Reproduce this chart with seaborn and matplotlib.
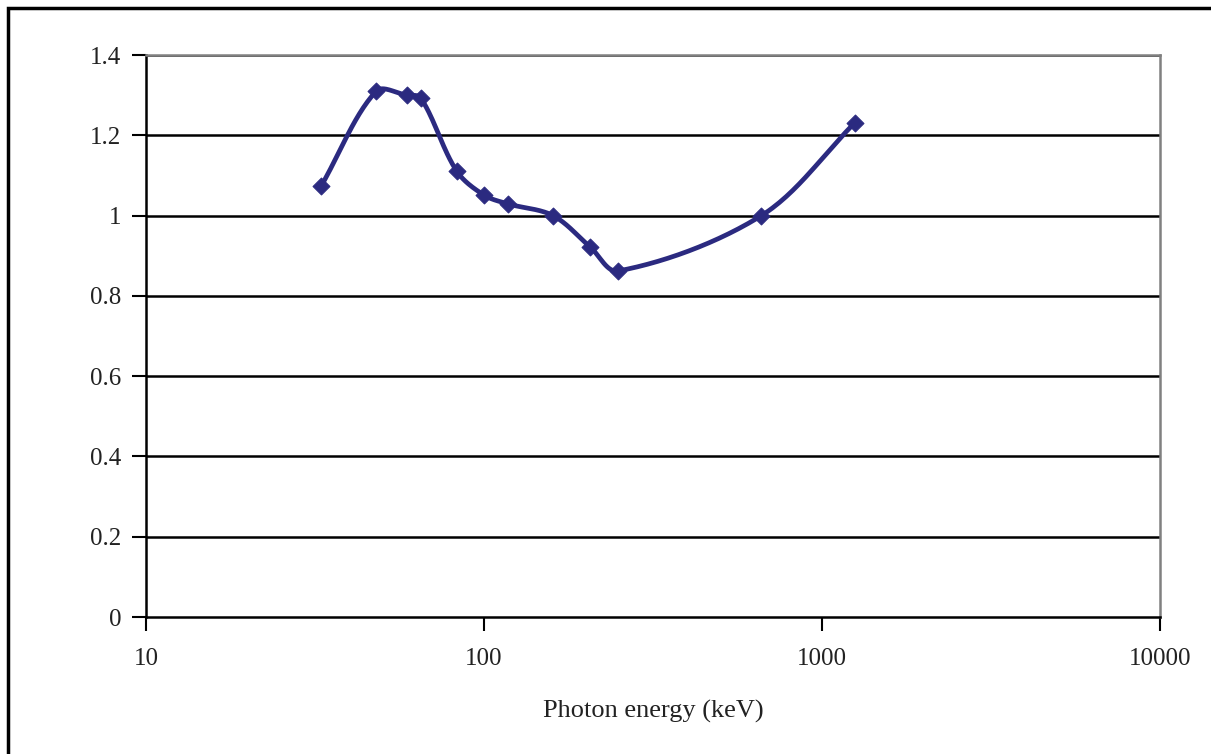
import numpy as np
import pandas as pd
import matplotlib
matplotlib.use('Agg')
import matplotlib.pyplot as plt
import seaborn as sns
from matplotlib.patches import Rectangle

# photon energy (keV) and relative response
energy = [33, 48, 59, 65, 83, 100, 118, 160, 206, 249, 662, 1250]
response = [1.074, 1.31, 1.30, 1.293, 1.111, 1.051, 1.029, 1.0, 0.922, 0.862, 1.0, 1.231]
yticks = [0, 0.2, 0.4, 0.6, 0.8, 1, 1.2, 1.4]
xticks = [10, 100, 1000, 10000]

df = pd.DataFrame({'energy': energy, 'response': response})

sns.set_style('white')
plt.rcParams['font.family'] = ['Liberation Serif', 'DejaVu Serif']

navy = '#2b2a80'

fig = plt.figure(figsize=(12.11, 7.54), dpi=100)
ax = fig.add_axes([146 / 1211, 1 - 617 / 754, (1160 - 146) / 1211, (617 - 55) / 754])

ax.set_xscale('log')
ax.set_xlim(10, 10000)
ax.set_ylim(0, 1.4)
ax.set_yticks(yticks)
ax.set_yticklabels([f'{t:g}' for t in yticks])
ax.set_xticks(xticks)
ax.set_xticklabels([str(t) for t in xticks])
ax.minorticks_off()

for t in yticks[1:]:
    ax.axhline(t, color='black', lw=1.8, zorder=1)

# smoothed line (bezier through the points, handles scaled by chord length)
pts = ax.transData.transform(np.column_stack([df['energy'], df['response']]))
P = np.vstack([pts[0], pts, pts[-1]])
curve = []
tt = np.linspace(0, 1, 30)
for i in range(1, len(P) - 2):
    p0, p1, p2, p3 = P[i - 1], P[i], P[i + 1], P[i + 2]
    d01 = np.linalg.norm(p1 - p0)
    d12 = np.linalg.norm(p2 - p1)
    d23 = np.linalg.norm(p3 - p2)
    c1 = p1 + (p2 - p0) * d12 / max(d01 + d12, 1e-9) / 3
    c2 = p2 - (p3 - p1) * d12 / max(d12 + d23, 1e-9) / 3
    for t in tt:
        b = ((1 - t) ** 3) * p1 + 3 * ((1 - t) ** 2) * t * c1 + 3 * (1 - t) * t ** 2 * c2 + t ** 3 * p2
        curve.append(b)
curve = ax.transData.inverted().transform(np.array(curve))
smooth = pd.DataFrame({'energy': curve[:, 0], 'response': curve[:, 1]})

sns.lineplot(data=smooth, x='energy', y='response', sort=False, color=navy, lw=3.4, ax=ax, zorder=3)
sns.scatterplot(data=df, x='energy', y='response', marker='D', s=75, color=navy,
                edgecolor=navy, ax=ax, zorder=4)

ax.set_xlabel('Photon energy (keV)', fontsize=19, labelpad=22, color='#222222')
ax.set_ylabel('')
ax.tick_params(axis='both', labelsize=18, length=10, width=1.5, color='black', direction='out',
               bottom=True, left=True, labelcolor='#222222')
ax.tick_params(axis='x', pad=12)
ax.tick_params(axis='y', pad=8)

for side in ['left', 'bottom']:
    ax.spines[side].set_color('black')
    ax.spines[side].set_linewidth(1.8)
for side in ['top', 'right']:
    ax.spines[side].set_color('#808080')
    ax.spines[side].set_linewidth(1.8)

# outer frame
fig.patches.append(Rectangle((8 / 1211, -0.1), 1.2, 1 - 8 / 754 + 0.1, transform=fig.transFigure,
                             fill=False, edgecolor='black', lw=2.5))

fig.savefig('out.png', dpi=100)
